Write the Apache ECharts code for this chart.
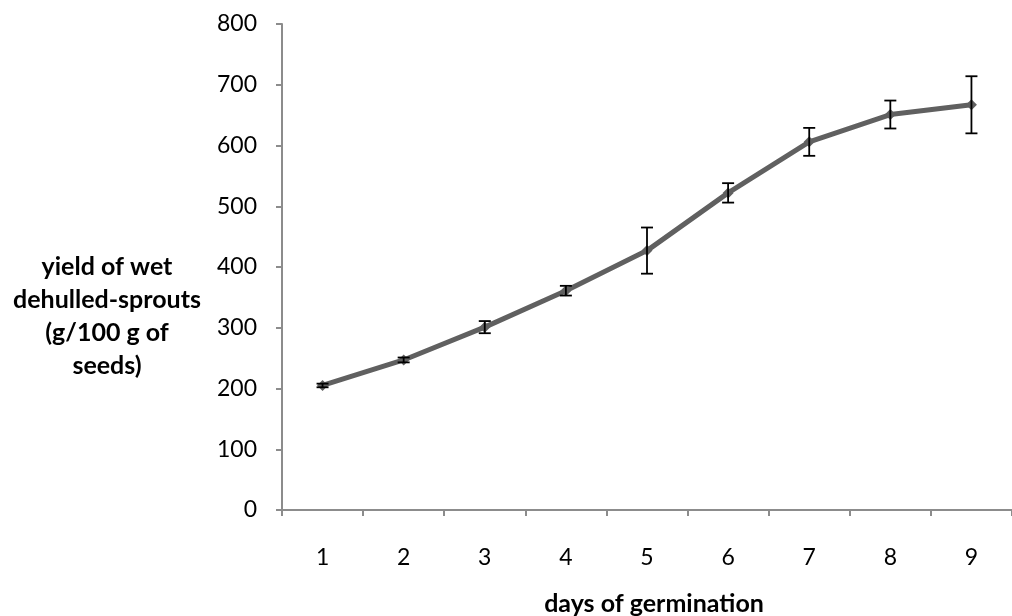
<!DOCTYPE html>
<html>
<head>
<meta charset="utf-8">
<script src="https://cdn.jsdelivr.net/npm/echarts@6/dist/echarts.min.js"></script>
<style>html,body{margin:0;padding:0;background:#fff}#c{width:1012px;height:616px}</style>
</head>
<body>
<div id="c"></div>
<script>
const days = ['1','2','3','4','5','6','7','8','9'];
const yieldValues = [205, 247, 301, 361, 427, 522, 606, 651, 667];
const errorValues = [3, 4, 10, 8, 38, 16, 23, 23, 47];
const yTicks = [0, 100, 200, 300, 400, 500, 600, 700, 800];
const yTitle = 'yield of wet\ndehulled-sprouts\n(g/100 g of\nseeds)';
const xTitle = 'days of germination';

const FONT = 'Lato, "Open Sans", sans-serif';
const errData = yieldValues.map((v, i) => [i, v - errorValues[i], v + errorValues[i]]);

const chart = echarts.init(document.getElementById('c'), null, {renderer: 'canvas'});
chart.setOption({
  animation: false,
  backgroundColor: '#ffffff',
  grid: {left: 282, top: 24, width: 739, height: 486, containLabel: false},
  xAxis: {
    type: 'category',
    data: days,
    boundaryGap: true,
    axisLine: {lineStyle: {color: '#8c8c8c', width: 2}},
    axisTick: {show: true, length: 6, lineStyle: {color: '#8c8c8c', width: 2}},
    axisLabel: {color: '#000', fontSize: 23, fontFamily: FONT, margin: 36},
    splitLine: {show: false}
  },
  yAxis: {
    type: 'value',
    min: yTicks[0],
    max: yTicks[yTicks.length - 1],
    interval: 100,
    axisLine: {show: true, lineStyle: {color: '#8c8c8c', width: 2}},
    axisTick: {show: true, length: 6, lineStyle: {color: '#8c8c8c', width: 2}},
    axisLabel: {color: '#000', fontSize: 23, fontFamily: FONT, margin: 25},
    splitLine: {show: false}
  },
  graphic: [
    {
      type: 'text',
      x: 107, y: 316,
      style: {
        text: yTitle, fill: '#000', font: 'bold 25px ' + FONT,
        align: 'center', verticalAlign: 'middle', lineHeight: 33
      }
    },
    {
      type: 'text',
      x: 654, y: 604,
      style: {
        text: xTitle, fill: '#000', font: 'bold 25px ' + FONT,
        align: 'center', verticalAlign: 'middle'
      }
    }
  ],
  series: [
    {
      type: 'line',
      data: yieldValues,
      symbol: 'diamond',
      symbolSize: 11,
      lineStyle: {color: '#606060', width: 5},
      itemStyle: {color: '#606060'},
      z: 2
    },
    {
      type: 'custom',
      data: errData,
      z: 3,
      renderItem: function (params, api) {
        const x = api.value(0);
        const lo = api.coord([x, api.value(1)]);
        const hi = api.coord([x, api.value(2)]);
        const hw = 6;
        const st = {stroke: '#000', lineWidth: 1.8};
        return {
          type: 'group',
          children: [
            {type: 'line', shape: {x1: lo[0], y1: lo[1], x2: hi[0], y2: hi[1]}, style: st},
            {type: 'line', shape: {x1: lo[0] - hw, y1: lo[1], x2: lo[0] + hw, y2: lo[1]}, style: st},
            {type: 'line', shape: {x1: hi[0] - hw, y1: hi[1], x2: hi[0] + hw, y2: hi[1]}, style: st}
          ]
        };
      }
    }
  ]
});
</script>
</body>
</html>
